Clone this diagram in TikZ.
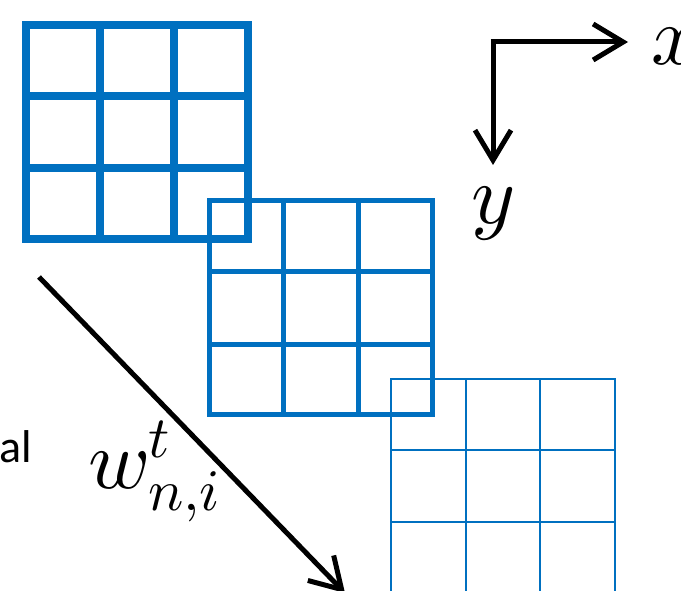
\documentclass[tikz,border=0pt]{standalone}
\usepackage{fontspec}
\usepackage{unicode-math}
\setmainfont{Carlito}
\usetikzlibrary{arrows.meta}
\definecolor{gridblue}{HTML}{0070C0}
\tikzset{
  gridthick/.style={draw=gridblue,line width=8pt},
  gridmid/.style={draw=gridblue,line width=5pt},
  gridthin/.style={draw=gridblue,line width=2.6pt},
  axisarrow/.style={draw=black,line width=5pt,-{Straight Barb[length=30pt,width=36pt,line width=5pt]}},
  mathlbl/.style={inner sep=0pt,font=\fontsize{84}{90}\selectfont},
}
\begin{document}
\begin{tikzpicture}[x=1pt,y=-1pt]
\useasboundingbox (0,0) rectangle (681,591);
% grid 3 (thin)
\draw[gridthin] (391,379) rectangle (615,600);
\foreach \xx in {466,540} \draw[gridthin] (\xx,379) -- (\xx,600);
\foreach \yy in {450,522} \draw[gridthin] (391,\yy) -- (615,\yy);
% grid 2 (medium)
\draw[gridmid] (209,201) rectangle (432,414);
\foreach \xx in {283,358} \draw[gridmid] (\xx,201) -- (\xx,414);
\foreach \yy in {272,344} \draw[gridmid] (209,\yy) -- (432,\yy);
% grid 1 (thick)
\draw[gridthick] (26,25) rectangle (248,239);
\foreach \xx in {100,174} \draw[gridthick] (\xx,25) -- (\xx,239);
\foreach \yy in {96,168} \draw[gridthick] (26,\yy) -- (248,\yy);
% axes
\coordinate (o) at (493,42);
\coordinate (xe) at (628,42);
\coordinate (ye) at (493,165);
\draw[axisarrow] ([xshift=-2.5pt]o) -- (xe);
\draw[axisarrow] (o) -- (ye);
\node[mathlbl,anchor=base west] (xl) at (651,65) {$x$};
\node[mathlbl,anchor=base west] (yl) at (471,224) {$y$};
% long arrow
\coordinate (as) at (39,277);
\coordinate (ae) at (345,593);
\draw[axisarrow] (as) -- (ae);
\node[mathlbl,anchor=base west] (wl) at (88,488) {$w_{n,i}^{t}$};
\node[inner sep=0pt,anchor=base west,font=\fontsize{46}{50}\selectfont] (al) at (-1,462) {al};
\end{tikzpicture}
\end{document}
